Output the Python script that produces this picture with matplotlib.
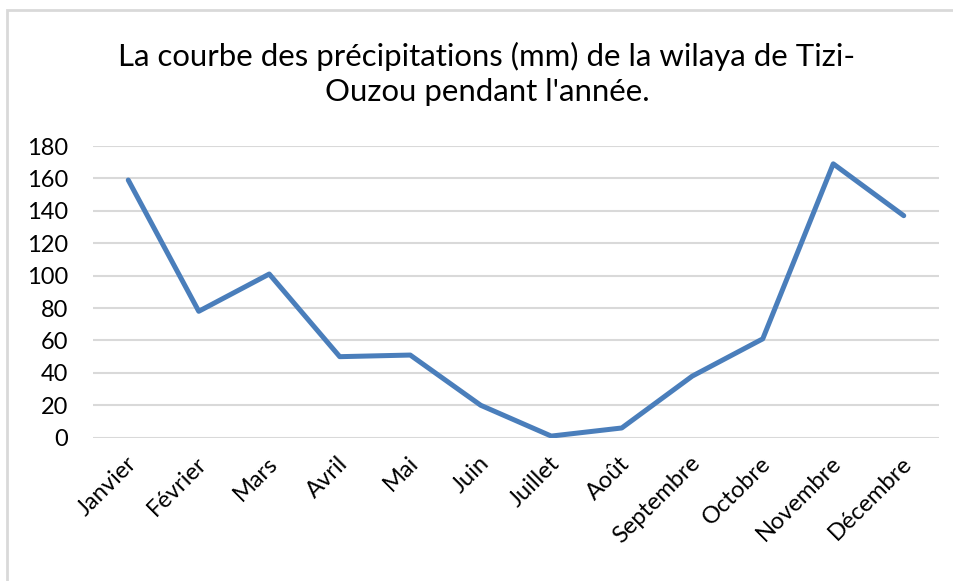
import matplotlib.pyplot as plt
from matplotlib.patches import Rectangle
from matplotlib import transforms

months = ["Janvier", "Février", "Mars", "Avril", "Mai", "Juin", "Juillet",
          "Août", "Septembre", "Octobre", "Novembre", "Décembre"]
precip_mm = [159, 78, 101, 50, 51, 20, 1, 6, 38, 61, 169, 137]
y_ticks = [0, 20, 40, 60, 80, 100, 120, 140, 160, 180]

plt.rcParams['font.family'] = ['Lato', 'DejaVu Sans']

fig = plt.figure(figsize=(9.54, 5.81), dpi=100)

# light frame around the chart, like the spreadsheet chart area
fig.patches.append(Rectangle((7 / 954, -0.1), 1.2, 1 - 10 / 581 + 0.1,
                             transform=fig.transFigure, fill=False,
                             edgecolor="#d9d9d9", linewidth=2))

ax = fig.add_axes([93 / 954, 1 - 437.7 / 581, (939 - 93) / 954, (437.7 - 146) / 581])
x = list(range(len(months)))
ax.plot(x, precip_mm, color="#4a7ebb", linewidth=3.6, solid_joinstyle="round",
        solid_capstyle="round", zorder=3)

ax.set_xlim(-0.5, len(months) - 0.5)
ax.set_ylim(0, 180)
ax.set_yticks(y_ticks)
ax.set_yticklabels([str(v) for v in y_ticks], fontsize=17)
ax.yaxis.grid(True, color="#d9d9d9", linewidth=1.5)
ax.set_axisbelow(True)
for s in ax.spines.values():
    s.set_visible(False)
ax.tick_params(axis="y", length=0, pad=18)
ax.tick_params(axis="x", length=0, pad=6)

ax.set_xticks(x)
offset = transforms.ScaledTranslation(5 / 100, -14 / 100, fig.dpi_scale_trans)
ax.set_xticklabels(months, fontsize=17, rotation=45, ha="right",
                   rotation_mode="anchor", va="center")
for lab in ax.get_xticklabels():
    lab.set_transform(lab.get_transform() + offset)

fig.text(487 / 954, 1 - 74 / 581,
         "La courbe des précipitations (mm) de la wilaya de Tizi-\nOuzou pendant l'année.",
         ha="center", va="center", fontsize=22.4, linespacing=1.3)

fig.savefig("out.png", dpi=100)
